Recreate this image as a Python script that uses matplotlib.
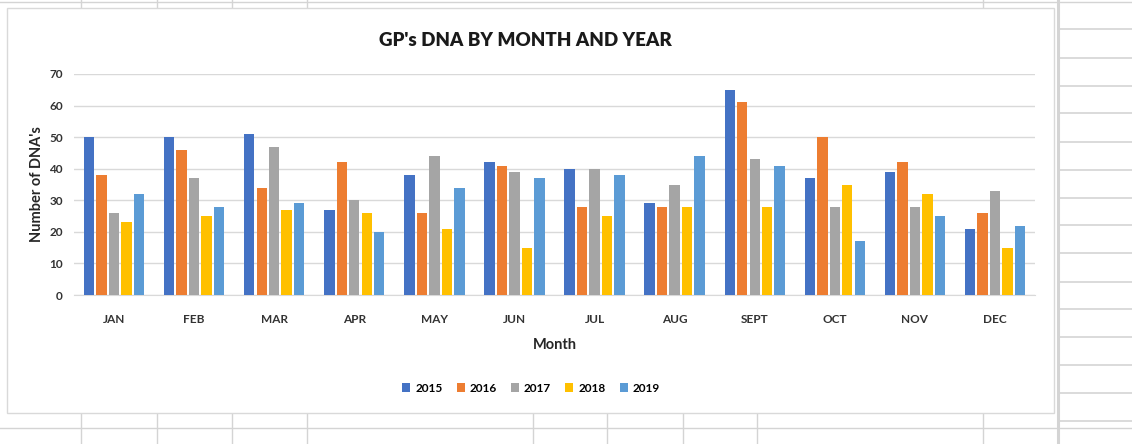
import matplotlib.pyplot as plt
import numpy as np
from matplotlib.lines import Line2D
from matplotlib.patches import Rectangle

months = ["JAN", "FEB", "MAR", "APR", "MAY", "JUN", "JUL", "AUG", "SEPT", "OCT", "NOV", "DEC"]
years = ["2015", "2016", "2017", "2018", "2019"]

dna_2015 = [50, 50, 51, 27, 38, 42, 40, 29, 65, 37, 39, 21]
dna_2016 = [38, 46, 34, 42, 26, 41, 28, 28, 61, 50, 42, 26]
dna_2017 = [26, 37, 47, 30, 44, 39, 40, 35, 43, 28, 28, 33]
dna_2018 = [23, 25, 27, 26, 21, 15, 25, 28, 28, 35, 32, 15]
dna_2019 = [32, 28, 29, 20, 34, 37, 38, 44, 41, 17, 25, 22]

series = [dna_2015, dna_2016, dna_2017, dna_2018, dna_2019]
colors = ["#4472C4", "#ED7D31", "#A5A5A5", "#FFC000", "#5B9BD5"]

plt.rcParams['font.family'] = ['Lato', 'DejaVu Sans']

W, H = 1132, 444
fig = plt.figure(figsize=(W / 100, H / 100), dpi=100)

# spreadsheet cells behind the chart
grid_col = "#d4d4d4"
def fline(x0, y0, x1, y1, lw=1.0, c=grid_col):
    fig.add_artist(Line2D([x0 / W, x1 / W], [1 - y0 / H, 1 - y1 / H], color=c, lw=lw, zorder=-2))

fline(0, 2, 1140, 2)
for x in [81, 157, 232, 307, 983]:
    fline(x, 0, x, 8)
    fline(x, 413, x, 444)
for x in [533, 607, 683, 757]:
    fline(x, 413, x, 444)
fline(0, 428, 1132, 428)
fline(1058, 0, 1058, 444, lw=2.2)
for y in [29, 58, 86, 113, 142, 170, 198, 225, 253, 282, 309, 337, 365, 393, 421]:
    fline(1058, y, 1132, y, lw=1.2)

# chart area
fig.add_artist(Rectangle((7 / W, 1 - 413 / H), (1054 - 7) / W, (413 - 8) / H,
                         transform=fig.transFigure, facecolor="white",
                         edgecolor="#d9d9d9", lw=1, zorder=-1))

ax = fig.add_axes([74 / W, 1 - 295 / H, (1035 - 74) / W, (295 - 74) / H])
ax.set_facecolor("none")

x = np.arange(len(months))
step = 0.156
width = 0.13
for i, (vals, year) in enumerate(zip(series, years)):
    ax.bar(x + (i - 2) * step, vals, width, color=colors[i], label=year, zorder=3)

ax.set_xlim(-0.5, len(months) - 0.5)
ax.set_ylim(0, 70)
ax.set_yticks(range(0, 71, 10))
ax.grid(axis='y', color="#d9d9d9", lw=1, zorder=0)
for s in ["top", "right", "left"]:
    ax.spines[s].set_visible(False)
ax.spines["bottom"].set_color("#d9d9d9")
ax.tick_params(length=0)
ax.tick_params(axis='y', labelsize=8.5, pad=8, colors="#333333")
for lab in ax.get_yticklabels():
    lab.set_fontweight('bold')
ax.set_xticks(x)
ax.set_xticklabels(months, fontsize=8.5, fontweight='bold', color="#333333")
ax.tick_params(axis='x', pad=14)

ax.set_xlabel("Month", fontsize=10.5, fontweight='bold', labelpad=9, color="#262626")
ax.set_ylabel("Number of DNA's", fontsize=10.5, fontweight='bold', labelpad=4, color="#262626")

fig.text(525 / W, 1 - 40 / H, "GP's DNA BY MONTH AND YEAR", ha='center', va='center',
         fontsize=13.5, fontweight='heavy', color="#1a1a1a")

fig.legend(loc='center', bbox_to_anchor=(531 / W, 1 - 388 / H), ncol=5, frameon=False,
           handlelength=0.7, handleheight=0.7, handletextpad=0.4,
           columnspacing=1.2, prop={'weight': 'bold', 'size': 8.5})

plt.savefig("out.png", dpi=100)
